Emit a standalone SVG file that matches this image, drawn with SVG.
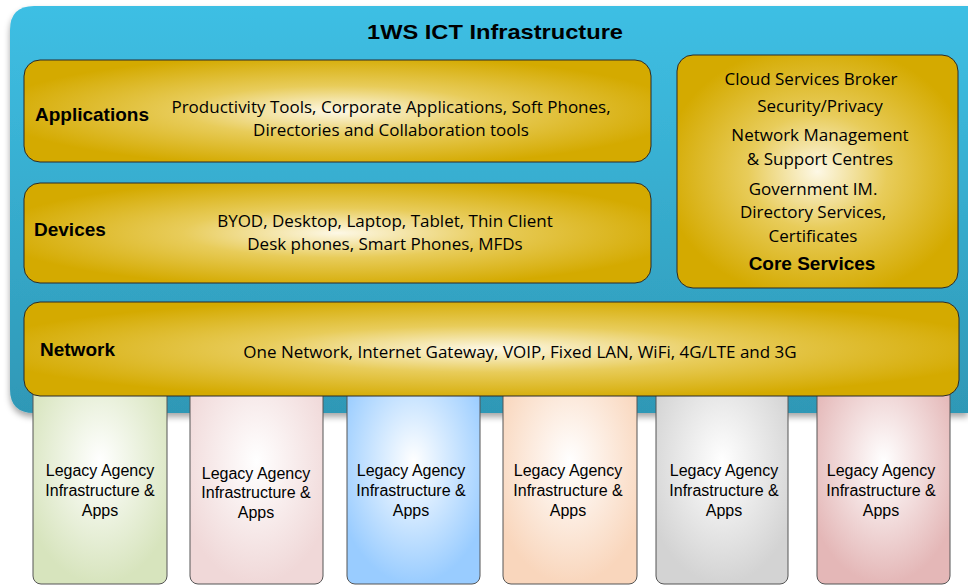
<svg xmlns="http://www.w3.org/2000/svg" width="968" height="585" viewBox="0 0 968 585">
  <defs>
    <linearGradient id="outerFill" x1="0" y1="0" x2="0" y2="1">
      <stop offset="0" stop-color="#3EBFE4"/>
      <stop offset="1" stop-color="#2F98B6"/>
    </linearGradient>
    <radialGradient id="gold" cx="0.5" cy="0.5" r="0.55">
      <stop offset="0" stop-color="#FDF8E6"/>
      <stop offset="0.45" stop-color="#E8CC5A"/>
      <stop offset="1" stop-color="#D4AA00"/>
    </radialGradient>
    <radialGradient id="green" cx="0.5" cy="0.4" r="0.6"><stop offset="0" stop-color="#FFFFFF"/><stop offset="1" stop-color="#D7E4BD"/></radialGradient>
    <radialGradient id="pink" cx="0.5" cy="0.4" r="0.6"><stop offset="0" stop-color="#FFFFFF"/><stop offset="1" stop-color="#F0D8D8"/></radialGradient>
    <radialGradient id="blue" cx="0.5" cy="0.4" r="0.6"><stop offset="0" stop-color="#FFFFFF"/><stop offset="1" stop-color="#99CCFF"/></radialGradient>
    <radialGradient id="peach" cx="0.5" cy="0.4" r="0.6"><stop offset="0" stop-color="#FFFFFF"/><stop offset="1" stop-color="#F9D6BC"/></radialGradient>
    <radialGradient id="grey" cx="0.5" cy="0.4" r="0.6"><stop offset="0" stop-color="#FFFFFF"/><stop offset="1" stop-color="#D3D3D3"/></radialGradient>
    <radialGradient id="rose" cx="0.5" cy="0.4" r="0.6"><stop offset="0" stop-color="#FFFFFF"/><stop offset="1" stop-color="#E4B7B7"/></radialGradient>
    <filter id="shadow" x="-5%" y="-5%" width="110%" height="115%">
      <feDropShadow dx="0" dy="4" stdDeviation="3" flood-color="#000" flood-opacity="0.35"/>
    </filter>
  </defs>
  <style>
    .gold { fill: url(#gold); stroke: #2a2a2a; stroke-width: 1; }
    .legacy { stroke: #555; stroke-width: 1; }
    .title { font-family: "Liberation Sans", Arial, sans-serif; font-weight: bold; font-size: 21px; fill: #000; }
    .head { font-family: "Liberation Sans", Arial, sans-serif; font-weight: bold; font-size: 19px; fill: #000; }
    .body { font-family: "Open Sans", "Noto Sans", sans-serif; font-size: 17px; fill: #000; text-anchor: middle; }
    .leg { font-family: "Liberation Sans", Arial, sans-serif; font-size: 16px; fill: #000; text-anchor: middle; }
  </style>

  <!-- outer infrastructure container -->
  <g id="infrastructure">
    <path d="M10 30 Q10 6 34 6 L968 6 L968 413 L34 413 Q10 413 10 389 Z" fill="url(#outerFill)" filter="url(#shadow)"/>
    <text class="title" x="367" y="39" textLength="256" lengthAdjust="spacingAndGlyphs">1WS ICT Infrastructure</text>
  </g>

  <!-- legacy agency columns, hanging below the network layer -->
  <g id="legacy1"><rect class="legacy" x="33" y="380" width="134" height="204" rx="8" fill="url(#green)"/>
    <text class="leg" x="100" y="476">Legacy Agency</text><text class="leg" x="100" y="496">Infrastructure &amp;</text><text class="leg" x="100" y="516">Apps</text></g>
  <g id="legacy2"><rect class="legacy" x="190" y="380" width="133" height="204" rx="8" fill="url(#pink)"/>
    <text class="leg" x="256" y="479">Legacy Agency</text><text class="leg" x="256" y="498">Infrastructure &amp;</text><text class="leg" x="256" y="518">Apps</text></g>
  <g id="legacy3"><rect class="legacy" x="347" y="380" width="133" height="204" rx="8" fill="url(#blue)"/>
    <text class="leg" x="411" y="476">Legacy Agency</text><text class="leg" x="411" y="496">Infrastructure &amp;</text><text class="leg" x="411" y="516">Apps</text></g>
  <g id="legacy4"><rect class="legacy" x="503" y="380" width="134" height="204" rx="8" fill="url(#peach)"/>
    <text class="leg" x="568" y="476">Legacy Agency</text><text class="leg" x="568" y="496">Infrastructure &amp;</text><text class="leg" x="568" y="516">Apps</text></g>
  <g id="legacy5"><rect class="legacy" x="656" y="380" width="132" height="204" rx="8" fill="url(#grey)"/>
    <text class="leg" x="724" y="476">Legacy Agency</text><text class="leg" x="724" y="496">Infrastructure &amp;</text><text class="leg" x="724" y="516">Apps</text></g>
  <g id="legacy6"><rect class="legacy" x="817" y="380" width="133" height="204" rx="8" fill="url(#rose)"/>
    <text class="leg" x="881" y="476">Legacy Agency</text><text class="leg" x="881" y="496">Infrastructure &amp;</text><text class="leg" x="881" y="516">Apps</text></g>

  <g id="applications">
    <rect class="gold" x="24" y="60" width="627" height="102" rx="16"/>
    <text class="head" x="35" y="121">Applications</text>
    <text class="body" x="391" y="113">Productivity Tools, Corporate Applications, Soft Phones,</text>
    <text class="body" x="391" y="136">Directories and Collaboration tools</text>
  </g>

  <g id="devices">
    <rect class="gold" x="24" y="183" width="627" height="100" rx="16"/>
    <text class="head" x="34" y="236">Devices</text>
    <text class="body" x="385" y="227">BYOD, Desktop, Laptop, Tablet, Thin Client</text>
    <text class="body" x="385" y="250">Desk phones, Smart Phones, MFDs</text>
  </g>

  <g id="core-services">
    <rect class="gold" x="677" y="55" width="281" height="233" rx="16"/>
    <text class="body" x="811" y="85">Cloud Services Broker</text>
    <text class="body" x="820" y="112">Security/Privacy</text>
    <text class="body" x="820" y="141">Network Management</text>
    <text class="body" x="820" y="165">&amp; Support Centres</text>
    <text class="body" x="813" y="195">Government IM.</text>
    <text class="body" x="813" y="218">Directory Services,</text>
    <text class="body" x="813" y="242">Certificates</text>
    <text class="head" x="812" y="270" text-anchor="middle">Core Services</text>
  </g>

  <g id="network">
    <rect class="gold" x="24" y="302" width="935" height="94" rx="16"/>
    <text class="head" x="40" y="356">Network</text>
    <text class="body" x="520" y="358">One Network, Internet Gateway, VOIP, Fixed LAN, WiFi, 4G/LTE and 3G</text>
  </g>

  <g id="connectors"/>
</svg>
